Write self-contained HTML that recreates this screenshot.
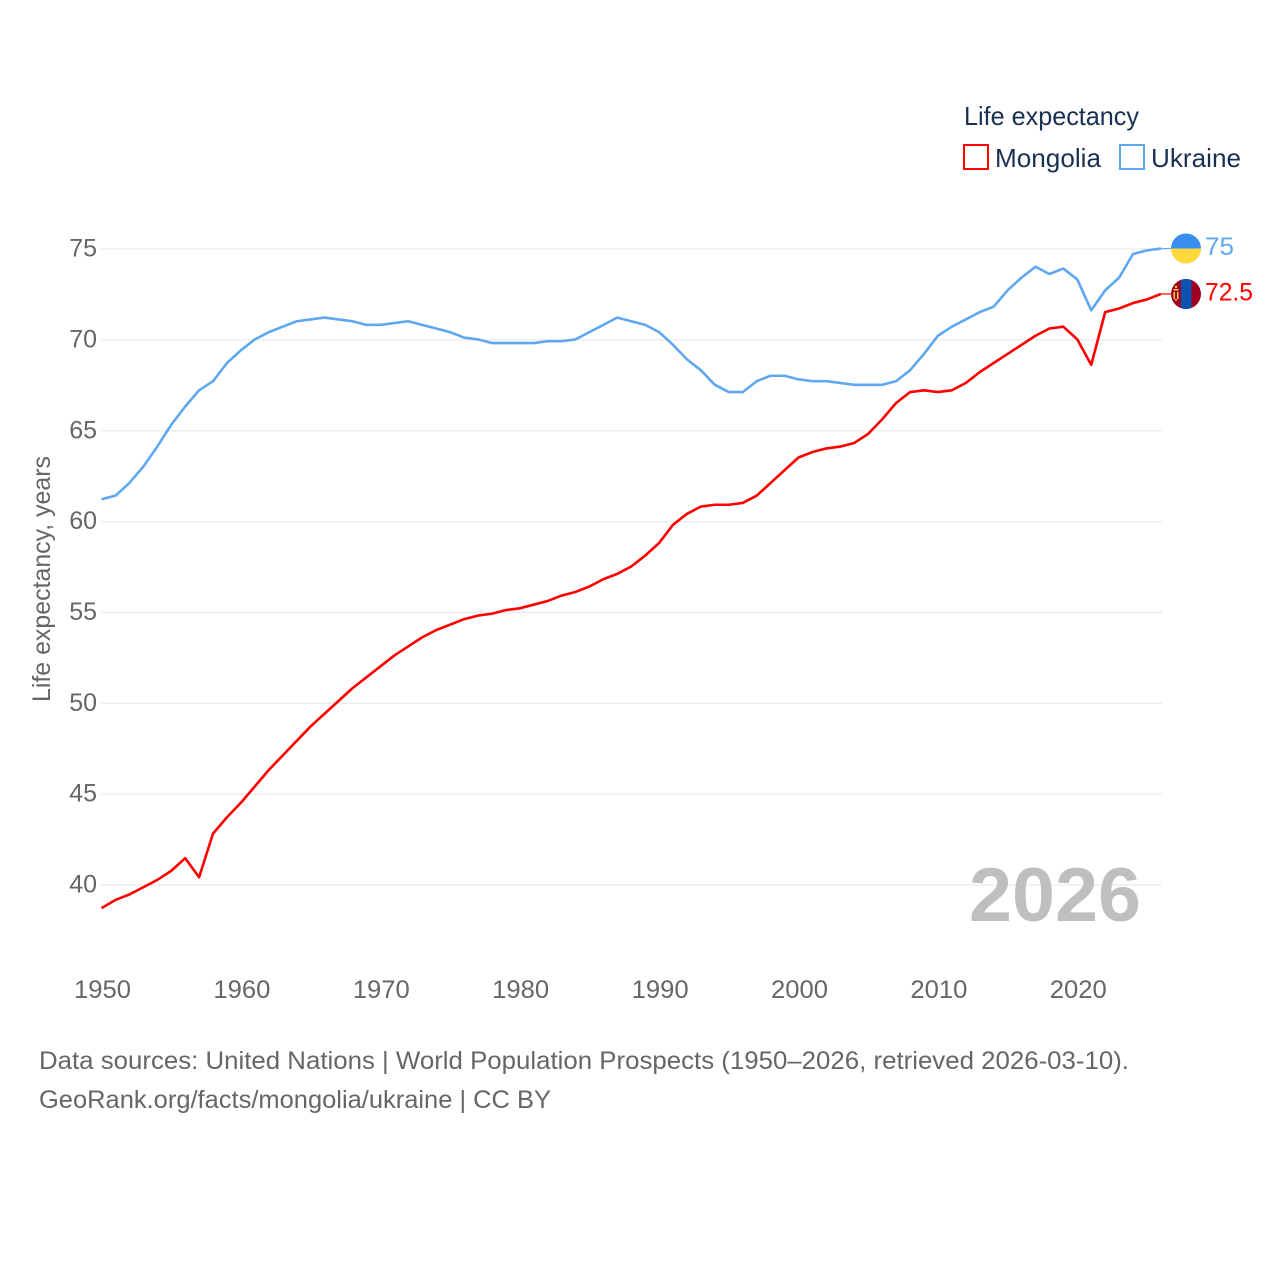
<!DOCTYPE html>
<html lang="en">
<head>
<meta charset="utf-8">
<title>Life expectancy: Mongolia and Ukraine</title>
<style>
html,body{margin:0;padding:0;background:#fff;}
svg{display:block;}
text{font-family:"Liberation Sans",sans-serif;}
</style>
</head>
<body>
<svg id="chart" xmlns="http://www.w3.org/2000/svg" width="1280" height="1280" viewBox="0 0 1280 1280">
  <defs>
    <clipPath id="flag-clip-ua"><circle cx="1186" cy="248.5" r="15"/></clipPath>
    <clipPath id="flag-clip-mn"><circle cx="1186" cy="294" r="15"/></clipPath>
  </defs>
  <rect width="1280" height="1280" fill="#fff"/>

  <g id="grid"></g>
  <g id="yticks"></g>
  <g id="xticks"></g>

  <text transform="translate(50,702) rotate(-90)" font-size="25" fill="#666" textLength="246" lengthAdjust="spacingAndGlyphs">Life expectancy, years</text>

  <text x="969" y="921" font-size="76" font-weight="bold" fill="#bfbfbf" textLength="172" lengthAdjust="spacingAndGlyphs">2026</text>

  <g id="series"></g>

  <g>
    <text x="964" y="125" font-size="26" fill="#1a3050" textLength="175" lengthAdjust="spacingAndGlyphs">Life expectancy</text>
    <rect x="964" y="145" width="24" height="24" fill="#fff" stroke="#ff0000" stroke-width="2"/>
    <text x="995" y="167" font-size="26" fill="#1a3050" textLength="106" lengthAdjust="spacingAndGlyphs">Mongolia</text>
    <rect x="1120" y="145" width="24" height="24" fill="#fff" stroke="#5fa8f0" stroke-width="2"/>
    <text x="1151" y="167" font-size="26" fill="#1a3050" textLength="90" lengthAdjust="spacingAndGlyphs">Ukraine</text>
  </g>

  <g clip-path="url(#flag-clip-ua)">
    <rect x="1170" y="232" width="32" height="16.5" fill="#3a8ef0"/>
    <rect x="1170" y="248.5" width="32" height="17" fill="#ffd83e"/>
  </g>
  <g clip-path="url(#flag-clip-mn)">
    <rect x="1170" y="278" width="32" height="32" fill="#a00020"/>
    <rect x="1181" y="278" width="10.5" height="32" fill="#0a52b0"/>
    <rect x="1173.5" y="289" width="5" height="1.5" fill="#ffd83e"/>
    <rect x="1173.5" y="292" width="1.5" height="7" fill="#ffd83e"/>
    <rect x="1177" y="292" width="1.5" height="7" fill="#ffd83e"/>
    <rect x="1175" y="299" width="2" height="1.5" fill="#ffd83e"/>
    <circle cx="1176" cy="287" r="1.2" fill="#ffd83e"/>
  </g>

  <text x="1205" y="255" font-size="25" fill="#5fa8f0" textLength="29" lengthAdjust="spacingAndGlyphs">75</text>
  <text x="1205" y="300.5" font-size="25" fill="#ff0000" textLength="48" lengthAdjust="spacingAndGlyphs">72.5</text>

  <g>
    <text x="39" y="1069" font-size="25" fill="#666" textLength="1090" lengthAdjust="spacingAndGlyphs">Data sources: United Nations | World Population Prospects (1950–2026, retrieved 2026-03-10).</text>
    <text x="39" y="1108" font-size="25" fill="#666" textLength="512" lengthAdjust="spacingAndGlyphs">GeoRank.org/facts/mongolia/ukraine | CC BY</text>
  </g>
</svg>
<script>
const startYear = 1950;
const yTickValues = [40, 45, 50, 55, 60, 65, 70, 75];
const xTickValues = [1950, 1960, 1970, 1980, 1990, 2000, 2010, 2020];
const mongoliaValues = [
  38.7, 39.15, 39.45, 39.85, 40.25, 40.75, 41.45, 40.4, 42.8, 43.7,
  44.5, 45.4, 46.3, 47.1, 47.9, 48.7, 49.4, 50.1, 50.8, 51.4,
  52.0, 52.6, 53.1, 53.6, 54.0, 54.3, 54.6, 54.8, 54.9, 55.1,
  55.2, 55.4, 55.6, 55.9, 56.1, 56.4, 56.8, 57.1, 57.5, 58.1,
  58.8, 59.8, 60.4, 60.8, 60.9, 60.9, 61.0, 61.4, 62.1, 62.8,
  63.5, 63.8, 64.0, 64.1, 64.3, 64.8, 65.6, 66.5, 67.1, 67.2,
  67.1, 67.2, 67.6, 68.2, 68.7, 69.2, 69.7, 70.2, 70.6, 70.7,
  70.0, 68.6, 71.5, 71.7, 72.0, 72.2, 72.5
];
const ukraineValues = [
  61.2, 61.4, 62.1, 63.0, 64.1, 65.3, 66.3, 67.2, 67.7, 68.7,
  69.4, 70.0, 70.4, 70.7, 71.0, 71.1, 71.2, 71.1, 71.0, 70.8,
  70.8, 70.9, 71.0, 70.8, 70.6, 70.4, 70.1, 70.0, 69.8, 69.8,
  69.8, 69.8, 69.9, 69.9, 70.0, 70.4, 70.8, 71.2, 71.0, 70.8,
  70.4, 69.7, 68.9, 68.3, 67.5, 67.1, 67.1, 67.7, 68.0, 68.0,
  67.8, 67.7, 67.7, 67.6, 67.5, 67.5, 67.5, 67.7, 68.3, 69.2,
  70.2, 70.7, 71.1, 71.5, 71.8, 72.7, 73.4, 74.0, 73.6, 73.9,
  73.3, 71.6, 72.7, 73.4, 74.7, 74.9, 75.0
];

const NS = 'http://www.w3.org/2000/svg';
function xScale(year) { return 101.5 + (year - 1950) * 13.94; }
function yScale(v) { return 885 - (v - 40) * 18.17; }
function svgEl(tag) { return document.createElementNS(NS, tag); }

const gridGroup = document.getElementById('grid');
const yTickGroup = document.getElementById('yticks');
yTickValues.forEach(function (v) {
  const line = svgEl('line');
  
  
  line.setAttribute('x1', 101);
  line.setAttribute('x2', 1162);
  line.setAttribute('y1', yScale(v));
  line.setAttribute('y2', yScale(v));
  line.setAttribute('stroke', '#ebebeb');
  line.setAttribute('stroke-width', '1.3');
  gridGroup.appendChild(line);

  const label = svgEl('text');
  
  
  label.setAttribute('x', 97);
  label.setAttribute('y', yScale(v) + 7.5);
  label.setAttribute('text-anchor', 'end');
  label.setAttribute('font-size', '25');
  label.setAttribute('fill', '#666');
  label.textContent = v;
  yTickGroup.appendChild(label);
});

const xTickGroup = document.getElementById('xticks');
xTickValues.forEach(function (yr) {
  const label = svgEl('text');
  
  
  label.setAttribute('x', xScale(yr) + 1);
  label.setAttribute('y', 998);
  label.setAttribute('text-anchor', 'middle');
  label.setAttribute('font-size', '25');
  label.setAttribute('fill', '#666');
  label.setAttribute('textLength', '57');
  label.setAttribute('lengthAdjust', 'spacingAndGlyphs');
  label.textContent = yr;
  xTickGroup.appendChild(label);
});

function drawSeries(values, color) {
  const group = document.getElementById('series');
  const pts = values.map(function (v, i) {
    return xScale(startYear + i).toFixed(2) + ',' + (yScale(v) - 0.5).toFixed(2);
  });
  const line = svgEl('polyline');
  
  
  line.setAttribute('points', pts.join(' '));
  line.setAttribute('fill', 'none');
  line.setAttribute('stroke', color);
  line.setAttribute('stroke-width', '2.6');
  line.setAttribute('stroke-linejoin', 'round');
  group.appendChild(line);

  const lastYear = startYear + values.length - 1;
  const lastY = yScale(values[values.length - 1]) - 0.5;
  const connector = svgEl('line');
  
  
  connector.setAttribute('x1', xScale(lastYear));
  connector.setAttribute('x2', 1171);
  connector.setAttribute('y1', lastY);
  connector.setAttribute('y2', lastY);
  connector.setAttribute('stroke', color);
  connector.setAttribute('stroke-width', '1.2');
  group.appendChild(connector);
}
drawSeries(ukraineValues, '#5fa8f0');
drawSeries(mongoliaValues, '#ff0000');
</script>
</body>
</html>
